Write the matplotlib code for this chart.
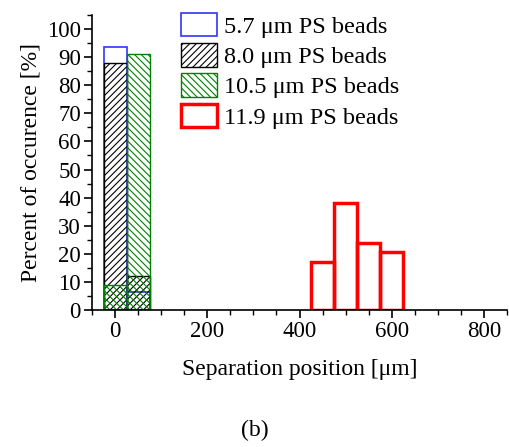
import numpy as np
import matplotlib
matplotlib.use('Agg')
import matplotlib.pyplot as plt
from matplotlib.ticker import MultipleLocator

plt.rcParams['font.family'] = ['Liberation Serif', 'DejaVu Serif']
plt.rcParams['hatch.linewidth'] = 0.8

# bin centres (um) and percent of occurence per bead size
pos_small = [0, 50]
pct_57 = [93.5, 6.5]
pct_80 = [88.0, 12.0]
pct_105 = [9.0, 91.0]
pos_119 = [450, 500, 550, 600]
pct_119 = [17.0, 38.0, 24.0, 20.5]
labels = ['5.7 \u03bcm PS beads', '8.0 \u03bcm PS beads',
          '10.5 \u03bcm PS beads', '11.9 \u03bcm PS beads']

fig = plt.figure(figsize=(5.09, 4.47), dpi=100)
ax = fig.add_axes([92/509, 1-310/447, 415/509, 295/447])

w = 50
ax.bar(pos_small, pct_57, w, facecolor='white', edgecolor='#3333ff', linewidth=1.2, label=labels[0])
ax.bar(pos_small, pct_80, w, facecolor='none', edgecolor='black', hatch='/////', linewidth=1.0, label=labels[1])
ax.bar(pos_small, pct_105, w, facecolor='none', edgecolor='green', hatch='\\\\\\\\\\', linewidth=1.0, label=labels[2])
ax.bar(pos_119, pct_119, w, facecolor='none', edgecolor='red', linewidth=2.5, label=labels[3])

ax.set_xlim(-50, 850)
ax.set_ylim(0, 105)
ax.xaxis.set_major_locator(MultipleLocator(200))
ax.xaxis.set_minor_locator(MultipleLocator(50))
ax.yaxis.set_major_locator(MultipleLocator(10))
ax.yaxis.set_minor_locator(MultipleLocator(5))
ax.tick_params(which='major', direction='out', length=6, width=1.2, labelsize=16.5, pad=2)
ax.tick_params(which='minor', direction='out', length=3.5, width=1.0)
ax.spines['top'].set_visible(False)
ax.spines['right'].set_visible(False)
ax.spines['left'].set_linewidth(1.2)
ax.spines['bottom'].set_linewidth(1.2)

ax.set_xlabel('Separation position [\u03bcm]', fontsize=17, labelpad=12)
ax.set_ylabel('Percent of occurence [%]', fontsize=17, labelpad=4)

ax.legend(loc='upper left', bbox_to_anchor=(0.19, 1.04), frameon=False,
          fontsize=17.5, handlelength=1.5, handleheight=1.1, handletextpad=0.3,
          labelspacing=0.22, borderaxespad=0)

fig.text(0.5, 1-430/447, '(b)', ha='center', va='center', fontsize=17)

fig.savefig('out.png', dpi=100)
